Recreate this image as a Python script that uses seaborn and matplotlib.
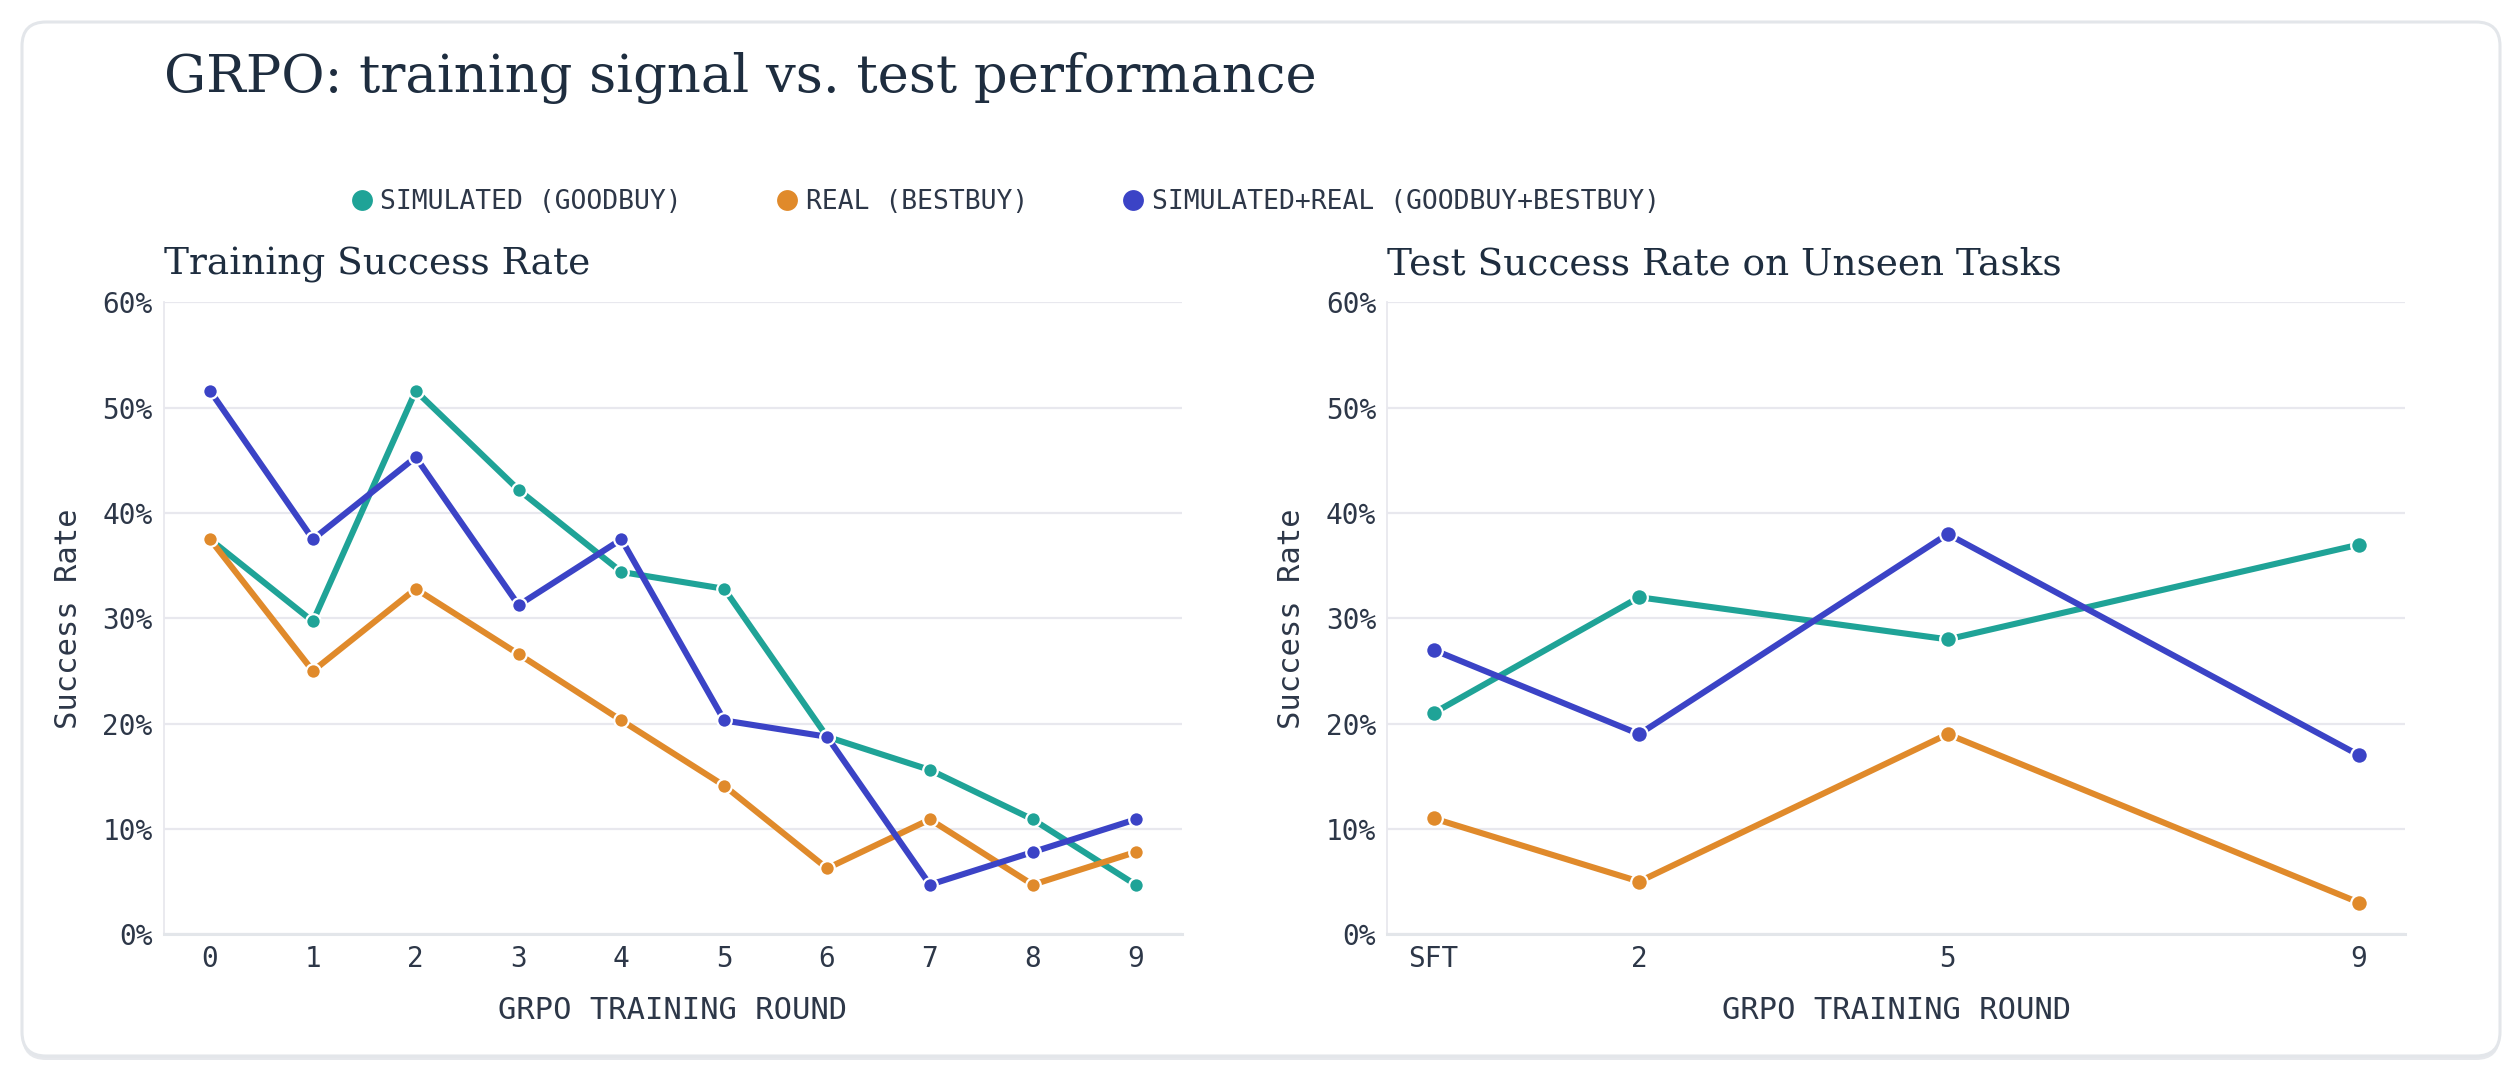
import numpy as np
import pandas as pd
import matplotlib
matplotlib.use("Agg")
import matplotlib.pyplot as plt
import seaborn as sns
from matplotlib.patches import FancyBboxPatch
from matplotlib.transforms import IdentityTransform
from matplotlib.lines import Line2D

# series names and colours
series_names = ["SIMULATED (GOODBUY)", "REAL (BESTBUY)", "SIMULATED+REAL (GOODBUY+BESTBUY)"]
series_colors = ["#1fa397", "#e08a2b", "#3b43c6"]

# training success rate (%) per GRPO round
train_rounds = [0, 1, 2, 3, 4, 5, 6, 7, 8, 9]
train_sim = [37.5, 29.7, 51.6, 42.2, 34.4, 32.8, 18.75, 15.6, 10.9, 4.7]
train_real = [37.5, 25.0, 32.8, 26.6, 20.3, 14.1, 6.25, 10.9, 4.7, 7.8]
train_both = [51.6, 37.5, 45.3, 31.25, 37.5, 20.3, 18.75, 4.7, 7.8, 10.9]

# test success rate (%) on unseen tasks, round 0 = SFT
test_rounds = [0, 2, 5, 9]
test_tick_labels = ["SFT", "2", "5", "9"]
test_sim = [21, 32, 28, 37]
test_real = [11, 5, 19, 3]
test_both = [27, 19, 38, 17]

text_color = "#1e2d3f"
tick_color = "#2d3748"
grid_color = "#e8e8ee"

sns.set_theme(style="whitegrid")
plt.rcParams['font.family'] = ['DejaVu Sans Mono', 'DejaVu Sans']
plt.rcParams['axes.unicode_minus'] = False


def make_df(rounds, a, b, c):
    frames = []
    for name, vals in zip(series_names, [a, b, c]):
        frames.append(pd.DataFrame({"round": rounds, "rate": vals, "series": name}))
    return pd.concat(frames, ignore_index=True)


train_df = make_df(train_rounds, train_sim, train_real, train_both)
test_df = make_df(test_rounds, test_sim, test_real, test_both)
palette = dict(zip(series_names, series_colors))

fig = plt.figure(figsize=(25.2, 10.8), dpi=100)
fig.patch.set_facecolor("white")

# rounded card behind everything
shadow = FancyBboxPatch((22, 20), 2478, 1034, boxstyle="round,pad=0,rounding_size=24",
                        transform=IdentityTransform(), facecolor="#e6e8ec",
                        edgecolor="none", zorder=-3)
card = FancyBboxPatch((22, 24), 2478, 1034, boxstyle="round,pad=0,rounding_size=24",
                      transform=IdentityTransform(), facecolor="white",
                      edgecolor="#e3e6ea", linewidth=2.2, zorder=-2)
fig.add_artist(shadow)
fig.add_artist(card)

ax1 = fig.add_axes([0.065, 0.135, 0.404, 0.585])
ax2 = fig.add_axes([0.5505, 0.135, 0.404, 0.585])

for ax, df, title in [(ax1, train_df, "Training Success Rate"),
                      (ax2, test_df, "Test Success Rate on Unseen Tasks")]:
    sns.lineplot(data=df, x="round", y="rate", hue="series", palette=palette,
                 marker="o", markersize=12 if ax is ax2 else 10.5,
                 markeredgecolor="white", markeredgewidth=1.6,
                 linewidth=4.4, ax=ax, legend=False)
    ax.set_facecolor("white")
    ax.set_ylim(0, 60)
    ax.set_yticks([0, 10, 20, 30, 40, 50, 60])
    ax.set_yticklabels([f"{v}%" for v in [0, 10, 20, 30, 40, 50, 60]])
    ax.set_xlim(-0.45, 9.45)
    ax.grid(axis="y", color=grid_color, linewidth=1.6)
    ax.grid(axis="x", visible=False)
    for side in ["top", "right"]:
        ax.spines[side].set_visible(False)
    ax.spines["left"].set_color(grid_color)
    ax.spines["left"].set_linewidth(1.3)
    ax.spines["bottom"].set_color("#e3e6ea")
    ax.spines["bottom"].set_linewidth(2.2)
    ax.tick_params(axis="both", length=0, labelsize=20, colors=tick_color, pad=8)
    ax.set_xlabel("GRPO TRAINING ROUND", fontsize=22, color=tick_color, labelpad=16)
    ax.set_ylabel("Success Rate", fontsize=22, color=tick_color, labelpad=14)
    ax.set_title(title, loc="left", fontsize=27, family="DejaVu Serif",
                 color=text_color, pad=20)

ax1.set_xticks(train_rounds)
ax1.set_xticklabels([str(r) for r in train_rounds])
ax2.set_xticks(test_rounds)
ax2.set_xticklabels(test_tick_labels)

fig.text(0.065, 0.915, "GRPO: training signal vs. test performance", fontsize=38,
         family="DejaVu Serif", color=text_color, va="baseline", ha="left")

handles = [Line2D([], [], linestyle="none", marker="o", markersize=15,
                  markerfacecolor=c, markeredgecolor="none") for c in series_colors]
fig.legend(handles, series_names, loc="center", bbox_to_anchor=(0.399, 0.813),
           ncol=3, frameon=False, fontsize=19, labelcolor=tick_color,
           handletextpad=0.3, columnspacing=3.6, handlelength=0.8)

fig.savefig("out.png", dpi=100, facecolor="white")
